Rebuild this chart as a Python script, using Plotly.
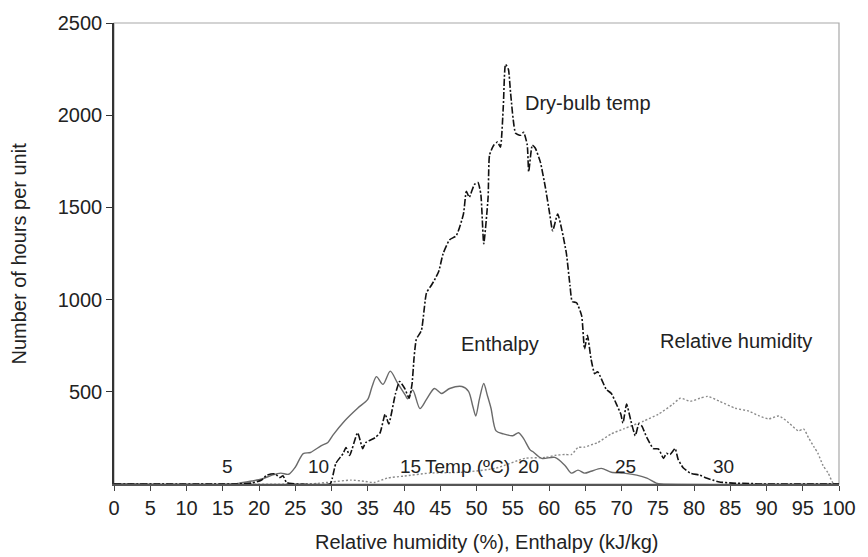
import plotly.graph_objects as go

# Dry-bulb temperature distribution (hours per unit)
dry_x = [0, 17, 19, 20.3, 21.1, 22.2, 22.9, 23.3, 23.8, 24.5, 29.8, 30.1, 30.6, 31.6, 32.0, 32.5,
         33.6, 34.3, 34.7, 36.0, 36.7, 37.4, 37.9, 38.8, 39.4, 40.1, 40.7, 41.1, 41.4, 41.7,
         42.4, 43.1, 43.8, 44.2, 44.8, 45.4, 46.3, 47.2, 48.2, 48.6, 49.0, 49.7, 50.2,
         50.6, 51.0, 51.6, 51.8, 52.4, 52.9, 53.3, 53.7, 54.0, 54.4, 54.7, 55.4, 56.1,
         56.5, 57.0, 57.2, 57.7, 58.1, 58.8, 59.5, 60.1, 60.5, 61.2, 61.8, 62.4, 62.9,
         63.2, 63.8, 64.5, 64.9, 65.3, 65.8, 66.3, 66.7, 67.9, 68.6, 69.3, 69.9, 70.2,
         70.7, 71.3, 71.9, 72.4, 72.8, 73.5, 74.4, 75.1, 75.8, 76.2, 76.7, 77.4, 77.8,
         78.5, 79.5, 80.8, 81.7, 82.6, 83.5, 85.3, 87.6, 89, 100]
dry_y = [0, 0, 5, 20, 48, 55, 35, 45, 8, 2, 0, 30, 112, 165, 198, 155,
         278, 192, 224, 251, 278, 379, 326, 486, 556, 518, 465, 540, 690, 785,
         833, 1036, 1079, 1106, 1154, 1250, 1325, 1346, 1464, 1587, 1555, 1624, 1635,
         1571, 1303, 1555, 1784, 1838, 1854, 1827, 2051, 2276, 2249, 2121, 1902, 1891,
         1907, 1838, 1693, 1838, 1822, 1747, 1608, 1464, 1373, 1464, 1373, 1250, 1074,
         990, 983, 913, 732, 807, 678, 598, 609, 513, 491, 433, 379, 331,
         433, 342, 262, 326, 315, 251, 192, 190, 139, 166, 160, 192, 135,
         88, 59, 48, 32, 21, 11, 5, 3, 0, 0]

# Enthalpy distribution
enth_x = [0, 16.5, 17.3, 19, 20.4, 21.8, 23, 24.1, 25, 26.1, 27.1, 28.6, 29.5, 30.2, 31.8,
          33.6, 35, 35.6, 36.2, 37.1, 38.1, 39.1, 40.2, 40.5, 41.2, 42.2, 43.1, 44.2,
          45.2, 46.3, 48.0, 48.9, 49.5, 49.9, 50.4, 51.0, 51.5, 52.0, 52.7, 53.7, 55.0,
          55.8, 56.5, 57.4, 57.8, 59.0, 60.8, 62.2, 63.1, 64.0, 64.9, 65.8, 67.2, 68.6,
          70.3, 72.1, 73.5, 74.8, 75.5, 100]
enth_y = [0, 0, 5, 16, 27, 48, 59, 53, 91, 165, 171, 208, 225, 265, 342,
          411, 459, 529, 582, 540, 612, 548, 480, 462, 510, 409, 459, 518,
          491, 518, 529, 502, 420, 369, 460, 545, 480, 411, 288, 272, 262,
          278, 246, 185, 175, 139, 144, 101, 59, 75, 59, 69, 85, 64,
          59, 48, 32, 5, 0, 0]

# Relative humidity distribution
rh_x = [0, 25, 28, 30, 32.7, 34.5, 35.9, 37.7, 40, 43.5, 48.2, 52.6, 56.7, 59.5, 60.8,
        62.2, 63.1, 64.0, 64.9, 66.3, 66.7, 68.6, 70.3, 73.1, 75.1, 77.1, 78.1, 79.5,
        80.8, 81.9, 83.5, 85.7, 87.6, 89, 90.3, 91.7, 93.1, 94.4, 95.1, 95.8, 96.6,
        97.1, 97.8, 98.5, 99.2, 100]
rh_y = [0, 0, 3, 11, 21, 15, 8, 32, 43, 59, 64, 85, 139, 144, 155,
        160, 160, 198, 200, 219, 224, 272, 299, 342, 379, 433, 465, 449,
        465, 475, 449, 411, 395, 369, 353, 369, 331, 288, 299, 251, 198,
        166, 100, 60, 5, 0]

# Temperature scale labels written along the baseline
temp_labels = ["5", "10", "15", "Temp (ºC)", "20", "25", "30"]
temp_pos = [15.6, 28.2, 40.9, 48.7, 57.2, 70.6, 84.1]

x_ticks = list(range(0, 101, 5))
y_ticks = [500, 1000, 1500, 2000, 2500]

FONT = "Liberation Sans, Arial, Helvetica, sans-serif"
TXT = "#222222"

fig = go.Figure()
fig.add_trace(go.Scatter(x=rh_x, y=rh_y, mode="lines", name="Relative humidity",
                         line=dict(color="#8a8a8a", width=1.4, dash="2px,2px",
                                   shape="spline", smoothing=0.6)))
fig.add_trace(go.Scatter(x=enth_x, y=enth_y, mode="lines", name="Enthalpy",
                         line=dict(color="#6a6a6a", width=1.4,
                                   shape="spline", smoothing=0.8)))
fig.add_trace(go.Scatter(x=dry_x, y=dry_y, mode="lines", name="Dry-bulb temp",
                         line=dict(color="#111111", width=1.6, dash="7px,2px,2px,2px",
                                   shape="spline", smoothing=0.5)))

annotations = []
for lab, pos in zip(temp_labels, temp_pos):
    annotations.append(dict(x=pos, y=95, xref="x", yref="y", text=lab, showarrow=False,
                            font=dict(family=FONT, size=19, color=TXT),
                            xanchor="center", yanchor="middle"))
for lab, px, py in [("Dry-bulb temp", 65.4, 2065), ("Enthalpy", 53.2, 760),
                    ("Relative humidity", 85.8, 775)]:
    annotations.append(dict(x=px, y=py, xref="x", yref="y", text=lab, showarrow=False,
                            font=dict(family=FONT, size=20, color=TXT),
                            xanchor="center", yanchor="middle"))
annotations.append(dict(x=0, y=0.5, xref="paper", yref="paper", xshift=-96,
                        text="Number of hours per unit", textangle=-90, showarrow=False,
                        font=dict(family=FONT, size=20, color=TXT),
                        xanchor="center", yanchor="middle"))
annotations.append(dict(x=0.5, y=0, xref="paper", yref="paper", xshift=10, yshift=-58,
                        text="Relative humidity (%), Enthalpy (kJ/kg)", showarrow=False,
                        font=dict(family=FONT, size=20, color=TXT),
                        xanchor="center", yanchor="middle"))

fig.update_layout(
    width=868, height=557,
    margin=dict(l=114, r=20, t=16, b=73),
    paper_bgcolor="white", plot_bgcolor="white",
    showlegend=False,
    annotations=annotations,
    shapes=[dict(type="rect", xref="paper", yref="paper", x0=0, y0=0, x1=1, y1=1,
                 line=dict(color="#a8a8a8", width=1.2), layer="below")],
    xaxis=dict(range=[0, 100], tickvals=x_ticks, ticktext=[str(v) for v in x_ticks],
               showgrid=False, zeroline=False, showline=True, linecolor="#555555",
               linewidth=2, ticks="outside", ticklen=5, tickwidth=1.2, tickcolor="#444444",
               tickfont=dict(family=FONT, size=20, color=TXT)),
    yaxis=dict(range=[0, 2500], tickvals=y_ticks, ticktext=[str(v) for v in y_ticks],
               showgrid=False, zeroline=False, showline=True, linecolor="#333333",
               linewidth=1.5, ticks="outside", ticklen=6, tickwidth=1.2, tickcolor="#333333",
               tickfont=dict(family=FONT, size=20, color=TXT)),
)

fig.write_html("out.html")
